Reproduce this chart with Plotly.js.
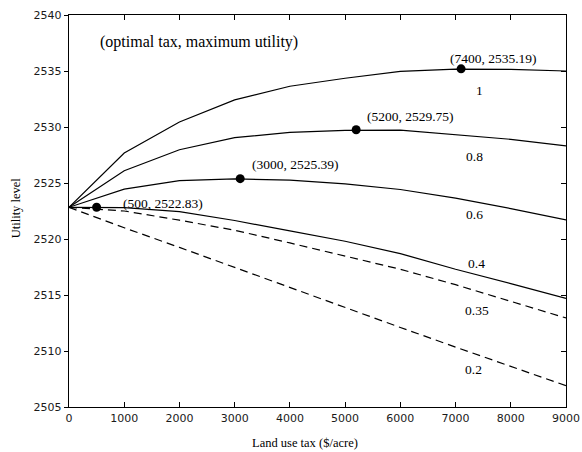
<!DOCTYPE html>
<html>
<head>
<meta charset="utf-8">
<script src="https://cdn.plot.ly/plotly-3.0.1.min.js"></script>
<style>html,body{margin:0;padding:0;background:#fff;}#chart{width:582px;height:452px;}</style>
</head>
<body>
<div id="chart"></div>
<script>
// Land use tax ($/acre)
const taxes = [0, 1000, 2000, 3000, 4000, 5000, 6000, 7000, 8000, 9000];
// Utility level for each parameter value
const seriesNames = ["1", "0.8", "0.6", "0.4", "0.35", "0.2"];
const u1   = [2522.83, 2527.68, 2530.45, 2532.42, 2533.64, 2534.35, 2534.97, 2535.17, 2535.15, 2535.0];
const u08  = [2522.83, 2526.1, 2527.97, 2529.05, 2529.52, 2529.7, 2529.72, 2529.3, 2528.9, 2528.32];
const u06  = [2522.83, 2524.45, 2525.22, 2525.37, 2525.25, 2524.92, 2524.42, 2523.65, 2522.72, 2521.7];
const u04  = [2522.83, 2522.8, 2522.45, 2521.65, 2520.72, 2519.8, 2518.7, 2517.3, 2516.02, 2514.7];
const u035 = [2522.83, 2522.5, 2521.68, 2520.78, 2519.65, 2518.5, 2517.3, 2515.92, 2514.45, 2512.95];
const u02  = [2522.83, 2521.0, 2519.25, 2517.45, 2515.65, 2513.87, 2512.1, 2510.35, 2508.6, 2506.9];
const seriesDash = ["solid", "solid", "solid", "solid", "8px,5px", "8px,5px"];
// Optimal tax points (as drawn) and their labels
const optX = [7100, 5200, 3100, 500];
const optY = [2535.19, 2529.75, 2525.39, 2522.83];
const optLabels = ["(7400, 2535.19)", "(5200, 2529.75)", "(3000, 2525.39)", "(500, 2522.83)"];
const yTicks = [2505, 2510, 2515, 2520, 2525, 2530, 2535, 2540];
const xTicks = [0, 1000, 2000, 3000, 4000, 5000, 6000, 7000, 8000, 9000];

const allSeries = [u1, u08, u06, u04, u035, u02];
const traces = allSeries.map((ys, i) => ({
  x: taxes, y: ys, type: "scatter", mode: "lines",
  line: {color: "#000", width: 1.2, dash: seriesDash[i]},
  name: seriesNames[i], hoverinfo: "skip"
}));
traces.push({
  x: optX, y: optY, type: "scatter", mode: "markers",
  marker: {color: "#000", size: 9}, hoverinfo: "skip"
});
// helper trace for right-side inside ticks
traces.push({x: [null], y: [null], yaxis: "y2", type: "scatter", mode: "lines", hoverinfo: "skip"});

const serif = "'Liberation Serif', 'Times New Roman', Times, serif";
const optLabelPos = [[7679, 2536.11], [6187, 2530.9], [4107, 2526.66], [1704, 2523.14]];
const nameLabelPos = [[7429, 2533.22], [7351, 2527.4], [7347, 2522.23], [7374, 2517.77], [7393, 2513.58], [7329, 2508.32]];

const annotations = [];
annotations.push({x: 2361, y: 2537.58, xref: "x", yref: "y", text: "(optimal tax, maximum utility)",
  showarrow: false, font: {family: serif, size: 16, color: "#000"}});
optLabels.forEach((t, i) => annotations.push({x: optLabelPos[i][0], y: optLabelPos[i][1], xref: "x", yref: "y",
  text: t, showarrow: false, font: {family: serif, size: 13.5, color: "#000"}}));
seriesNames.forEach((t, i) => annotations.push({x: nameLabelPos[i][0], y: nameLabelPos[i][1], xref: "x", yref: "y",
  text: t, showarrow: false, font: {family: serif, size: 13.5, color: "#000"}}));
annotations.push({x: 0.475, y: -0.091, xref: "paper", yref: "paper", xanchor: "center", yanchor: "middle",
  text: "Land use tax ($/acre)", showarrow: false, font: {family: serif, size: 12.5, color: "#000"}});
annotations.push({x: -0.1066, y: 0.507, xref: "paper", yref: "paper", xanchor: "center", yanchor: "middle",
  text: "Utility level", textangle: -90, showarrow: false, font: {family: serif, size: 12.5, color: "#000"}});

const tickFont = {family: "'DejaVu Sans', sans-serif", size: 11, color: "#1a1a1a"};
const layout = {
  width: 582, height: 452,
  margin: {l: 69, r: 16, t: 15, b: 45},
  paper_bgcolor: "#fff", plot_bgcolor: "#fff",
  showlegend: false,
  xaxis: {range: [0, 9000], tickvals: xTicks, ticktext: xTicks.map(String),
    ticks: "inside", ticklen: 5, tickwidth: 1, tickcolor: "#000",
    showline: true, linecolor: "#000", linewidth: 1.3, mirror: "ticks",
    showgrid: false, zeroline: false, tickfont: tickFont},
  yaxis: {range: [2505, 2540], tickvals: yTicks, ticktext: yTicks.map(String),
    ticks: "outside", ticklen: 4, tickwidth: 1, tickcolor: "#000",
    showline: true, linecolor: "#000", linewidth: 1.3, mirror: true,
    showgrid: false, zeroline: false, tickfont: tickFont},
  yaxis2: {range: [2505, 2540], overlaying: "y", side: "right", tickvals: yTicks,
    ticks: "inside", ticklen: 5, tickwidth: 1, tickcolor: "#000",
    showticklabels: false, showline: false, showgrid: false, zeroline: false},
  annotations: annotations
};
Plotly.newPlot("chart", traces, layout, {staticPlot: true, displayModeBar: false});
</script>
</body>
</html>
